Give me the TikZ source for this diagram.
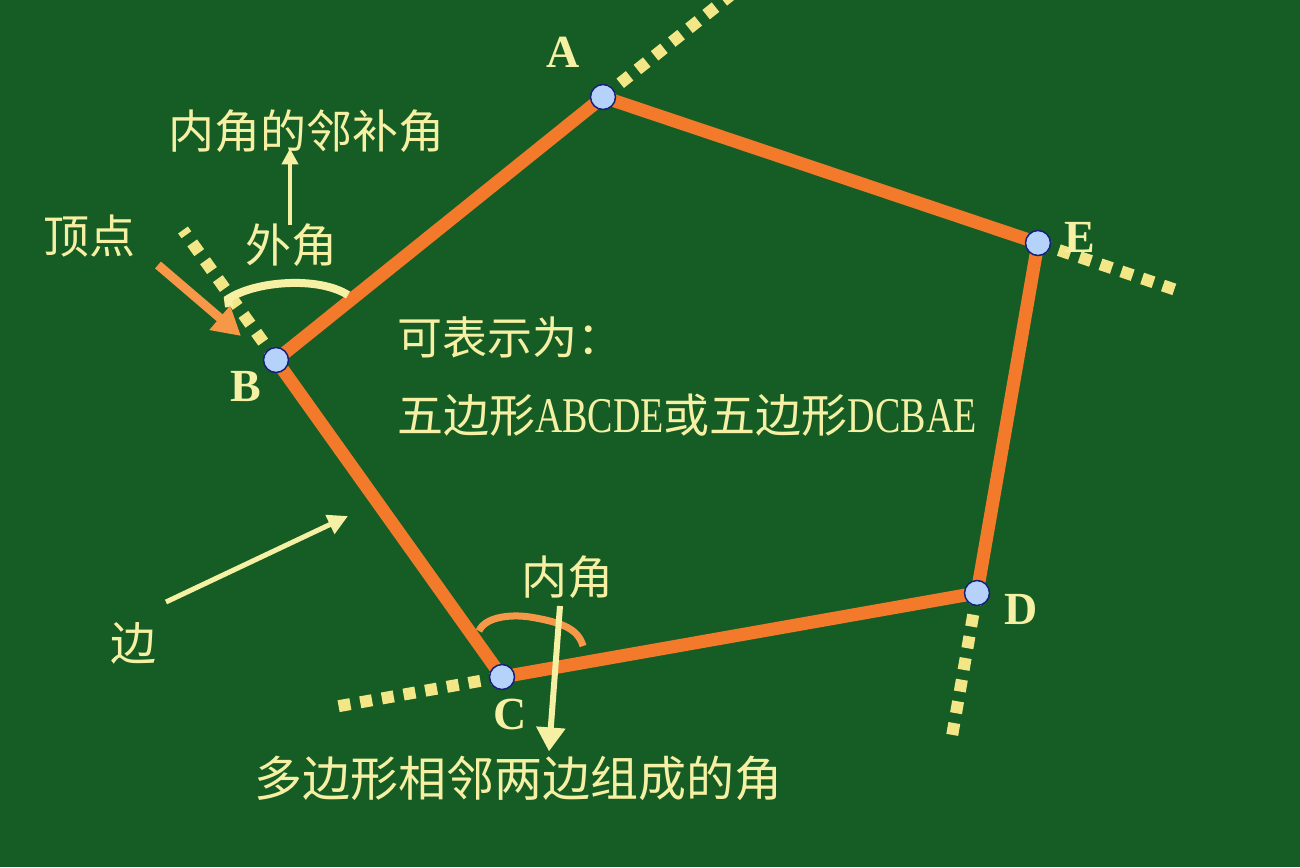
\documentclass[tikz,border=0pt]{standalone}
\usepackage{fontspec}
\setmainfont{Liberation Serif}
\newfontfamily\cjk{Noto Sans CJK SC}
\newfontfamily\narrowlatin[FakeStretch=0.76]{Liberation Serif}
\usetikzlibrary{positioning,arrows.meta}
\definecolor{board}{RGB}{21,93,37}
\definecolor{chalk}{RGB}{246,240,165}
\definecolor{edgeorange}{RGB}{242,122,42}
\definecolor{softorange}{RGB}{246,152,72}
\definecolor{tipblue}{RGB}{180,210,250}
\definecolor{navy}{RGB}{22,32,120}
\definecolor{dotyellow}{RGB}{242,230,135}
\newcommand{\lat}[1]{{\narrowlatin\fontsize{50}{50}\selectfont #1}}

\tikzset{
 vertex/.style={circle,draw=navy,fill=tipblue,line width=1.5pt,minimum size=25pt,inner sep=0pt},
 side/.style={edgeorange,line width=13pt,line join=round},
 ext/.style={dotyellow,line width=12pt,dash pattern=on 12pt off 10pt},
 letter/.style={text=chalk,inner sep=0pt,font=\fontsize{46}{46}\selectfont\bfseries},
 note/.style={text=chalk,inner sep=0pt,font=\cjk\fontsize{46}{50}\selectfont},
 pointer/.style={chalk,line width=5pt,-{Triangle[length=20pt,width=20pt]}}
}

\begin{document}
\begin{tikzpicture}[x=1pt,y=-1pt]
 \fill[board] (0,0) rectangle (1300,867);
 \useasboundingbox (0,0) rectangle (1300,867);

 % corners of the pentagon
 \coordinate (pA) at (603,97);
 \coordinate (pB) at (276,360);
 \coordinate (pC) at (502,677);
 \coordinate (pD) at (977,593);
 \coordinate (pE) at (1038,243);
 % far ends of the produced sides
 \coordinate (outA) at (737,-10);
 \coordinate (outB) at (183,230);
 \coordinate (outC) at (334,707);
 \coordinate (outD) at (951,742);
 \coordinate (outE) at (1182,292);

 \draw[ext] (pA) -- (outA);
 \draw[ext] (pB) -- (outB);
 \draw[ext] (pC) -- (outC);
 \draw[ext] (pD) -- (outD);
 \draw[ext] (pE) -- (outE);
 \draw[side] (pA) -- (pE) -- (pD) -- (pC) -- (pB) -- cycle;

 \node[vertex] (A) at (pA) {};
 \node[vertex] (B) at (pB) {};
 \node[vertex] (C) at (pC) {};
 \node[vertex] (D) at (pD) {};
 \node[vertex] (E) at (pE) {};

 \node[letter] (labA) at (563,52) {A};
 \node[letter] (labB) at (246,387) {B};
 \node[letter] (labC) at (510,714) {C};
 \node[letter] (labD) at (1021,609) {D};
 \node[letter] (labE) at (1080,237) {E};

 % exterior angle at B
 \draw[chalk,line width=8pt] (229,307) -- (228,299) .. controls (255,281) and (318,276) .. (348,295);
 \node[note] (waijiao) at (291,245) {外角};
 \node[note,above=71pt of waijiao,xshift=15pt] (buji) {内角的邻补角};
 \draw[pointer,line width=4pt,-{Triangle[length=16pt,width=16pt]}] ([xshift=-1pt,yshift=-2pt]waijiao.north) -- ([xshift=-1pt,yshift=4pt]waijiao.north |- buji.south);

 \node[note] (dingdian) at (89,236) {顶点};
 \coordinate (dingTail) at (158,265);
 \coordinate (dingTip) at (241,336);
 \draw[softorange,line width=9pt,-{Triangle[length=28pt,width=30pt]}] (dingTail) -- (dingTip);

 \node[note] (bian) at (133,643) {边};
 \coordinate (bianTail) at (166,602);
 \coordinate (bianTip) at (348,516);
 \draw[pointer] (bianTail) -- (bianTip);

 % interior angle at C
 \draw[softorange,line width=7pt] (479,631) .. controls (485,617) and (510,614) .. (530,617)
   .. controls (560,622) and (578,628) .. (583,646);
 \node[note] (neijiao) at (567,577) {内角};
 \node[note,font=\cjk\fontsize{48}{52}\selectfont] (hint) at (518,778) {多边形相邻两边组成的角};
 \coordinate (neiTail) at (560,606);
 \draw[pointer,line width=6pt,-{Triangle[length=24pt,width=28pt]}] (neiTail) -- ([xshift=31pt,yshift=4pt]hint.north);

 \node[note,anchor=west,font=\cjk\fontsize{45}{48}\selectfont] (naming) at (397,337) {可表示为：};
 \node[note,font=\cjk\fontsize{46}{48}\selectfont,below=36pt of naming.south west,anchor=north west] (names)
   {五边形\lat{ABCDE}或五边形\lat{DCBAE}};
\end{tikzpicture}
\end{document}
